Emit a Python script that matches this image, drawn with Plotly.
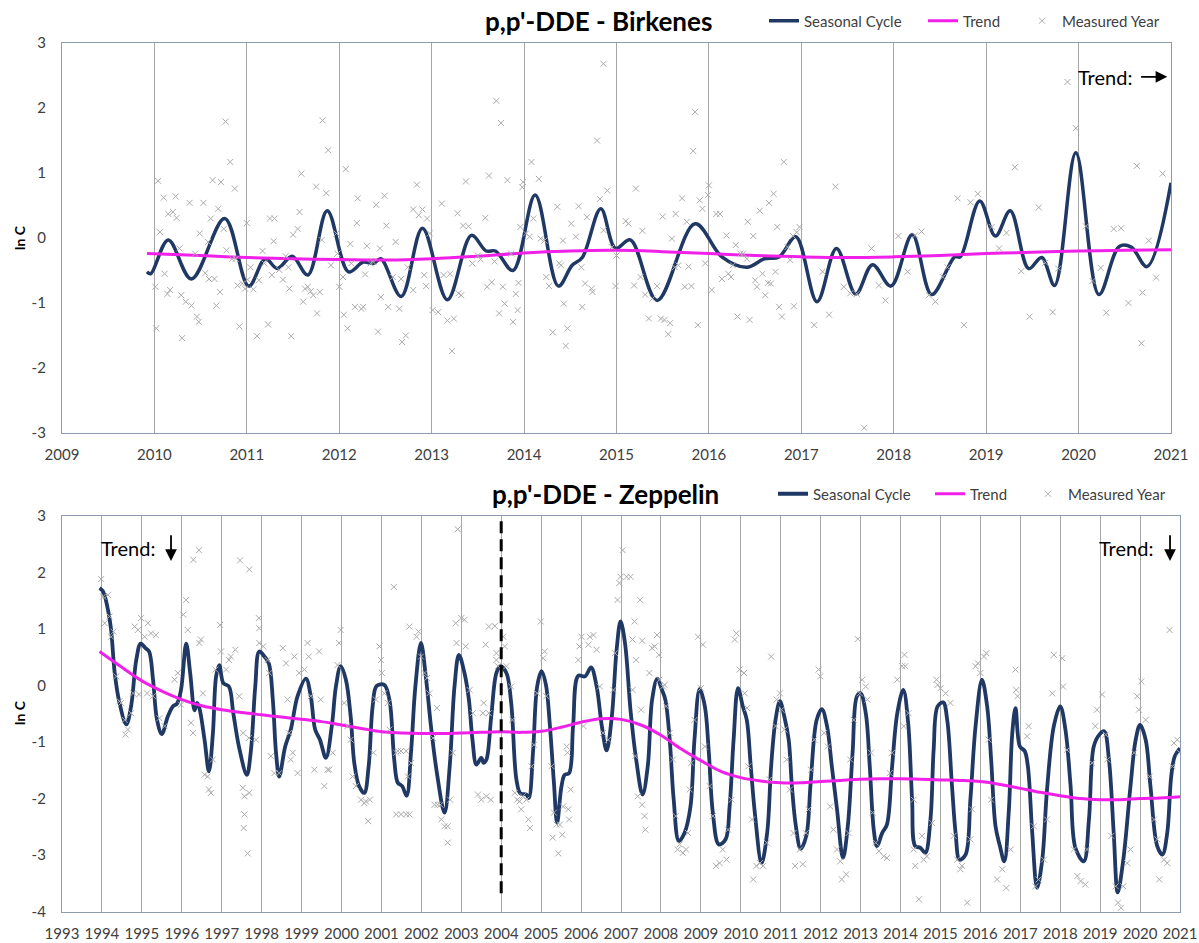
import plotly.graph_objects as go

# ---------------- Birkenes ----------------
birk_cycle_year = [2009.92, 2009.96, 2010.15, 2010.40, 2010.76, 2011.02, 2011.20, 2011.33, 2011.49,
                   2011.66, 2011.87, 2012.10, 2012.26, 2012.37, 2012.45, 2012.67, 2012.90, 2013.17,
                   2013.43, 2013.59, 2013.69, 2013.88, 2014.12, 2014.37, 2014.52, 2014.63, 2014.83,
                   2014.99, 2015.15, 2015.44, 2015.85, 2016.14, 2016.41, 2016.60, 2016.76, 2016.94,
                   2017.17, 2017.38, 2017.59, 2017.77, 2017.97, 2018.20, 2018.41, 2018.66, 2018.72,
                   2018.93, 2019.10, 2019.26, 2019.46, 2019.60, 2019.74, 2019.97, 2020.22, 2020.44,
                   2020.57, 2020.74, 2021.00]
birk_cycle_val = [-0.52, -0.55, -0.03, -0.63, 0.30, -0.74, -0.32, -0.47, -0.28,
                  -0.57, 0.42, -0.52, -0.37, -0.39, -0.32, -0.90, 0.15, -0.95,
                  0.04, -0.20, -0.20, -0.50, 0.66, -0.74, -0.42, -0.30, 0.45,
                  -0.16, -0.03, -0.96, 0.22, -0.29, -0.45, -0.32, -0.29, 0.02,
                  -0.98, -0.16, -0.86, -0.41, -0.74, 0.05, -0.87, -0.29, -0.29,
                  0.57, 0.03, 0.42, -0.47, -0.30, -0.73, 1.31, -0.87, -0.13,
                  -0.14, -0.44, 0.85]

birk_trend_year = [2009.92, 2010.5, 2011, 2011.5, 2012, 2012.5, 2013, 2013.5, 2014, 2014.5, 2015,
                   2015.5, 2016, 2016.5, 2017, 2017.5, 2018, 2018.5, 2019, 2019.5, 2020, 2020.5, 2021]
birk_trend_val = [-0.24, -0.27, -0.30, -0.32, -0.33, -0.34, -0.32, -0.28, -0.23, -0.20, -0.19,
                  -0.21, -0.24, -0.27, -0.29, -0.30, -0.29, -0.27, -0.24, -0.22, -0.20, -0.19, -0.18]

birk_meas_year = [
    2010.04, 2010.01, 2010.02, 2010.06, 2010.10, 2010.11, 2010.14, 2010.15, 2010.17, 2010.20,
    2010.23, 2010.24, 2010.27, 2010.30, 2010.29, 2010.34, 2010.38, 2010.40, 2010.44, 2010.46,
    2010.48, 2010.49, 2010.53, 2010.55, 2010.58, 2010.59, 2010.61, 2010.63, 2010.65, 2010.67,
    2010.69, 2010.71, 2010.72, 2010.75, 2010.77, 2010.78, 2010.82, 2010.84, 2010.87, 2010.88,
    2010.90, 2010.92, 2010.95, 2010.98, 2011.00, 2011.01, 2011.04, 2011.07, 2011.11, 2011.13,
    2011.17, 2011.19, 2011.23, 2011.25, 2011.27, 2011.29, 2011.30, 2011.35, 2011.39, 2011.42,
    2011.45, 2011.46, 2011.48, 2011.50, 2011.55, 2011.57, 2011.59, 2011.61, 2011.63, 2011.66,
    2011.69, 2011.72, 2011.75, 2011.76, 2011.79, 2011.81, 2011.82, 2011.86, 2011.88, 2011.91,
    2011.97, 2011.98, 2012.00, 2012.04, 2012.05, 2012.07, 2012.09, 2012.12, 2012.13, 2012.17,
    2012.19, 2012.20, 2012.24, 2012.26, 2012.28, 2012.30, 2012.34, 2012.37, 2012.40, 2012.42,
    2012.44, 2012.45, 2012.49, 2012.51, 2012.53, 2012.58, 2012.61, 2012.65, 2012.67, 2012.68,
    2012.72, 2012.74, 2012.80, 2012.80, 2012.84, 2012.86, 2012.90, 2012.92, 2012.94, 2012.95,
    2012.98, 2013.01, 2013.07, 2013.11, 2013.13, 2013.17, 2013.20, 2013.22, 2013.24, 2013.28,
    2013.29, 2013.32, 2013.34, 2013.37, 2013.40, 2013.44, 2013.50, 2013.53, 2013.58, 2013.60,
    2013.62, 2013.65, 2013.68, 2013.70, 2013.73, 2013.75, 2013.77, 2013.79, 2013.82, 2013.86,
    2013.88, 2013.91, 2013.93, 2013.94, 2013.96, 2013.98, 2013.99, 2014.02, 2014.06, 2014.08,
    2014.10, 2014.16, 2014.18, 2014.22, 2014.24, 2014.27, 2014.31, 2014.36, 2014.38, 2014.40,
    2014.42, 2014.43, 2014.45, 2014.47, 2014.51, 2014.56, 2014.59, 2014.62, 2014.63, 2014.66,
    2014.68, 2014.73, 2014.74, 2014.79, 2014.86, 2014.82, 2014.90, 2014.86, 2014.95, 2014.99,
    2015.00, 2015.10, 2015.13, 2015.21, 2015.19, 2015.26, 2015.28, 2015.31, 2015.35, 2015.39,
    2015.44, 2015.48, 2015.50, 2015.52, 2015.56, 2015.58, 2015.60, 2015.63, 2015.64, 2015.67,
    2015.71, 2015.74, 2015.76, 2015.78, 2015.81, 2015.83, 2015.85, 2015.88, 2015.90, 2015.93,
    2015.96, 2015.99, 2016.00, 2016.03, 2016.08, 2016.12, 2016.14, 2016.19, 2016.21, 2016.24,
    2016.26, 2016.29, 2016.31, 2016.34, 2016.37, 2016.41, 2016.42, 2016.44, 2016.48, 2016.50,
    2016.52, 2016.55, 2016.58, 2016.61, 2016.64, 2016.65, 2016.67, 2016.70, 2016.72, 2016.74,
    2016.76, 2016.79, 2016.81, 2016.85, 2016.88, 2016.91, 2016.92, 2016.95, 2016.98, 2017.14,
    2017.23, 2017.30, 2017.37, 2017.46, 2017.53, 2017.60, 2017.68, 2017.76, 2017.84, 2017.91,
    2018.05, 2018.15, 2018.23, 2018.30, 2018.38, 2018.45, 2018.53, 2018.58, 2018.69, 2018.76,
    2018.83, 2018.91, 2019.06, 2019.14, 2019.22, 2019.31, 2019.38, 2019.47, 2019.57, 2019.64,
    2019.72, 2019.78, 2019.88, 2019.97, 2020.08, 2020.15, 2020.24, 2020.30, 2020.38, 2020.46,
    2020.54, 2020.63, 2020.68, 2020.69, 2020.76, 2020.84, 2020.91]
birk_meas_val = [
    0.88, -0.75, -1.39, 0.09, 0.62, -0.55, -0.86, 0.37, -0.80, 0.40,
    0.64, 0.31, -0.16, -1.54, -0.88, -0.98, 0.54, -1.04, -0.24, -1.21,
    -1.29, 0.07, 0.54, -0.54, -0.06, -0.63, 0.30, 0.89, -0.63, -1.04,
    0.45, -0.83, 0.86, 0.14, 1.79, -0.19, 1.17, -0.32, 0.76, -0.32,
    -0.73, -1.36, -0.70, -0.78, 0.23, -0.64, -0.45, -0.79, -1.51, -0.65,
    -0.20, -0.39, -1.33, 0.30, -0.57, -0.05, 0.30, -0.49, -0.64, -0.28,
    -0.45, -0.78, -1.51, 0.05, 0.14, 0.40, 0.99, -0.98, -0.78, -0.75,
    -0.82, -0.88, 0.79, -1.16, -0.83, -0.03, 1.81, 0.69, 1.35, -0.42,
    0.07, -0.24, -0.75, -0.60, -1.18, 1.06, -1.39, -0.09, -0.39, -1.06,
    0.23, 0.61, -1.09, -1.06, -0.56, -0.12, -0.39, -0.37, 0.51, -1.44,
    -0.16, -0.91, 0.65, 0.19, -1.06, -0.60, -0.06, -1.09, -0.63, -1.60,
    -1.50, -0.45, 0.44, -0.80, 0.82, 0.35, 0.44, -0.57, -0.74, 0.30,
    0.07, -1.11, -1.14, 0.53, -0.57, -1.27, -0.55, -1.74, -1.24, 0.38,
    -0.85, -0.88, 0.19, 0.87, 0.18, -0.39, -0.27, -0.33, 0.31, -0.75,
    0.96, -0.68, -0.36, 2.11, -1.16, 1.77, -0.75, -1.01, 0.89, -0.24,
    -1.29, -0.86, -1.11, -0.69, 0.17, 0.78, 0.86, 0.07, 0.02, 1.17,
    0.30, 0.91, -0.01, -0.04, -0.60, -0.74, -1.45, 0.48, -0.39, -0.42,
    -0.04, -1.01, -1.66, -1.39, 0.22, 0.02, 0.49, -0.45, -1.06, -0.70,
    0.32, -0.78, -0.83, 1.50, 2.68, 0.60, 0.73, 0.12, -0.14, -0.74,
    -0.27, 0.26, 0.22, 0.76, -0.73, -0.60, 0.11, -0.87, -1.24, -0.93,
    -0.74, -1.24, 0.33, -1.26, -1.48, -1.31, -0.01, -0.45, 0.37, -0.42,
    0.61, -0.75, 0.25, -0.44, -0.74, 1.34, 1.94, -1.34, 0.58, 0.45,
    -0.39, 0.66, 0.81, -0.80, 0.37, 0.37, -0.63, 0.04, -0.55, -0.60,
    -0.42, -0.11, -1.21, -0.24, -0.24, -0.32, 0.25, -1.26, 0.03, -0.65,
    -0.75, 0.42, -0.55, -0.88, -0.69, 0.54, -0.70, 0.68, -0.52, 0.17,
    -1.06, -1.21, 1.17, -0.14, -0.34, 0.03, -1.05, 0.09, 0.17, -1.34,
    -0.52, -1.18, 0.79, -0.75, -0.85, -0.86, -2.92, -0.16, -0.73, -0.96,
    0.03, -0.52, 0.04, 0.10, -0.88, -0.98, -0.60, -0.45, 0.61, -1.34,
    0.55, 0.68, 0.17, -0.16, 0.08, 1.09, -0.51, -1.21, 0.47, -0.38,
    -1.14, -0.47, 2.40, 1.69, 0.18, -0.66, -0.46, -1.15, 0.14, 0.15,
    -1.00, 1.11, -1.62, -0.84, -0.04, -0.61, 0.99]

# ---------------- Zeppelin ----------------
zep_cycle_year = [
    1993.94, 1994.03, 1994.15, 1994.23, 1994.32, 1994.44, 1994.61, 1994.73, 1994.86, 1994.97,
    1995.09, 1995.18, 1995.28, 1995.38, 1995.50, 1995.65, 1995.78, 1995.88, 1995.98, 1996.11,
    1996.21, 1996.32, 1996.38, 1996.44, 1996.57, 1996.68, 1996.78, 1996.86, 1996.94, 1997.04,
    1997.18, 1997.29, 1997.44, 1997.63, 1997.73, 1997.84, 1997.94, 1998.07, 1998.18, 1998.28,
    1998.36, 1998.44, 1998.59, 1998.73, 1998.90, 1999.11, 1999.23, 1999.34, 1999.46, 1999.61,
    1999.76, 1999.86, 1999.98, 2000.11, 2000.23, 2000.32, 2000.44, 2000.57, 2000.68, 2000.78,
    2000.88, 2001.07, 2001.20, 2001.32, 2001.41, 2001.52, 2001.63, 2001.74, 2001.85, 2001.99,
    2002.12, 2002.24, 2002.39, 2002.58, 2002.71, 2002.83, 2002.94, 2003.08, 2003.19, 2003.28,
    2003.38, 2003.50, 2003.56, 2003.63, 2003.75, 2003.88, 2003.98, 2004.13, 2004.25, 2004.38,
    2004.48, 2004.63, 2004.69, 2004.80, 2004.90, 2005.01, 2005.12, 2005.22, 2005.32, 2005.40,
    2005.51, 2005.59, 2005.70, 2005.80, 2005.93, 2006.10, 2006.25, 2006.39, 2006.52, 2006.64,
    2006.77, 2006.89, 2006.99, 2007.10, 2007.24, 2007.38, 2007.54, 2007.67, 2007.78, 2007.91,
    2008.01, 2008.11, 2008.22, 2008.32, 2008.45, 2008.59, 2008.74, 2008.84, 2008.97, 2009.10,
    2009.20, 2009.30, 2009.45, 2009.62, 2009.72, 2009.82, 2009.93, 2010.05, 2010.15, 2010.25,
    2010.36, 2010.52, 2010.66, 2010.76, 2010.87, 2010.98, 2011.09, 2011.20, 2011.28, 2011.38,
    2011.50, 2011.64, 2011.75, 2011.90, 2012.03, 2012.16, 2012.28, 2012.41, 2012.56, 2012.68,
    2012.80, 2012.91, 2013.00, 2013.13, 2013.23, 2013.33, 2013.41, 2013.54, 2013.66, 2013.79,
    2013.92, 2014.07, 2014.19, 2014.29, 2014.37, 2014.50, 2014.62, 2014.75, 2014.83, 2014.93,
    2015.07, 2015.17, 2015.29, 2015.38, 2015.48, 2015.63, 2015.75, 2015.88, 2016.04, 2016.17,
    2016.27, 2016.38, 2016.49, 2016.60, 2016.71, 2016.80, 2016.88, 2016.99, 2017.11, 2017.19,
    2017.30, 2017.42, 2017.55, 2017.67, 2017.84, 2018.00, 2018.13, 2018.26, 2018.38, 2018.59,
    2018.72, 2018.84, 2018.98, 2019.10, 2019.22, 2019.34, 2019.44, 2019.58, 2019.76, 2019.89,
    2020.00, 2020.14, 2020.26, 2020.43, 2020.56, 2020.68, 2020.78, 2020.87, 2021.00]
zep_cycle_val = [
    1.72, 1.66, 1.34, 0.98, 0.22, -0.31, -0.69, -0.37, 0.45, 0.74,
    0.66, 0.60, 0.10, -0.61, -0.86, -0.55, -0.37, -0.32, -0.08, 0.74,
    0.22, -0.44, -0.31, -0.40, -0.96, -1.52, -0.84, 0.16, 0.36, 0.04,
    -0.02, -0.49, -1.11, -1.58, -1.16, -0.02, 0.60, 0.51, 0.39, -0.25,
    -1.19, -1.61, -1.08, -0.78, -0.19, 0.12, -0.19, -0.78, -0.96, -1.28,
    -0.70, -0.02, 0.34, 0.10, -0.55, -1.37, -1.78, -1.90, -1.43, -0.37,
    -0.01, 0.01, -0.25, -1.31, -1.72, -1.78, -1.95, -1.19, -0.02, 0.75,
    0.10, -0.72, -1.55, -2.25, -1.43, -0.02, 0.54, 0.22, -0.25, -0.96,
    -1.40, -1.28, -1.37, -1.31, -0.55, 0.22, 0.34, 0.22, -0.31, -1.66,
    -1.91, -1.93, -1.99, -1.14, -0.02, 0.25, 0.01, -0.72, -1.72, -2.43,
    -1.78, -1.58, -1.55, -0.72, 0.17, 0.16, 0.32, -0.02, -0.72, -1.15,
    -0.55, 0.63, 1.13, 0.75, -0.45, -1.31, -1.93, -1.43, -0.25, 0.12,
    -0.05, -0.25, -0.96, -2.02, -2.75, -2.61, -2.14, -0.96, -0.06, -0.37,
    -1.19, -2.25, -2.81, -2.72, -2.14, -0.96, -0.05, -0.37, -0.61, -1.43,
    -2.31, -3.14, -2.61, -1.43, -0.61, -0.28, -0.55, -0.96, -1.78, -2.49,
    -2.89, -2.66, -1.72, -0.61, -0.42, -0.72, -1.43, -2.19, -3.05, -2.49,
    -1.19, -0.19, -0.14, -0.49, -1.43, -2.55, -2.84, -2.61, -2.46, -1.43,
    -0.49, -0.08, -0.65, -2.02, -2.84, -2.87, -2.96, -2.37, -1.14, -0.37,
    -0.30, -0.61, -1.78, -2.61, -3.08, -2.99, -2.02, -0.72, 0.10, -0.37,
    -1.31, -2.49, -2.84, -3.11, -2.25, -0.84, -0.40, -1.08, -1.16, -1.43,
    -2.61, -3.58, -3.08, -1.84, -0.72, -0.37, -0.78, -1.78, -2.87, -3.11,
    -2.37, -1.08, -0.87, -0.81, -1.31, -2.61, -3.66, -3.08, -1.78, -0.96,
    -0.70, -0.96, -1.78, -2.84, -2.99, -2.61, -1.61, -1.25, -1.11]

zep_trend_year = [1993.94, 1994.5, 1995, 1995.5, 1996, 1996.5, 1997, 1997.5, 1998, 1998.5, 1999,
                  1999.5, 2000, 2000.5, 2001, 2001.5, 2002, 2002.5, 2003, 2003.5, 2004, 2004.5,
                  2005, 2005.5, 2006, 2006.5, 2007, 2007.5, 2008, 2008.5, 2009, 2009.5, 2010,
                  2010.5, 2011, 2011.5, 2012, 2012.5, 2013, 2013.5, 2014, 2014.5, 2015, 2015.5,
                  2016, 2016.5, 2017, 2017.5, 2018, 2018.5, 2019, 2019.5, 2020, 2020.5, 2021]
zep_trend_val = [0.60, 0.32, 0.08, -0.10, -0.25, -0.36, -0.43, -0.48, -0.52, -0.56, -0.60,
                 -0.64, -0.70, -0.76, -0.82, -0.84, -0.85, -0.85, -0.84, -0.83, -0.82, -0.83,
                 -0.81, -0.74, -0.65, -0.59, -0.60, -0.70, -0.88, -1.12, -1.33, -1.52, -1.63,
                 -1.69, -1.72, -1.72, -1.70, -1.68, -1.66, -1.65, -1.65, -1.66, -1.67, -1.68,
                 -1.70, -1.75, -1.82, -1.89, -1.95, -2.00, -2.02, -2.02, -2.00, -1.99, -1.97]

zep_meas_year = [
    1993.98, 1994.03, 1994.15, 1994.07, 1994.19, 1994.23, 1994.29, 1994.36, 1994.44, 1994.48,
    1994.57, 1994.59, 1994.65, 1994.73, 1994.78, 1994.82, 1994.90, 1994.93, 1994.98, 1995.07,
    1995.15, 1995.23, 1995.35, 1995.13, 1995.28, 1995.44, 1995.57, 1995.82, 1995.90, 1995.98,
    1996.04, 1996.11, 1996.15, 1996.23, 1996.29, 1996.43, 1996.44, 1996.48, 1996.53, 1996.28,
    1996.57, 1996.65, 1996.68, 1996.73, 1996.78, 1996.84, 1996.96, 1996.98, 1997.11, 1997.18,
    1997.23, 1997.34, 1997.44, 1997.54, 1997.53, 1997.57, 1997.57, 1997.55, 1997.65, 1997.69,
    1997.46, 1997.69, 1997.68, 1997.86, 1997.93, 1997.94, 1997.94, 1998.04, 1998.15, 1998.19,
    1998.23, 1998.32, 1998.44, 1998.53, 1998.61, 1998.65, 1998.69, 1998.73, 1998.78, 1998.82,
    1998.90, 1998.94, 1999.07, 1999.15, 1999.18, 1999.23, 1999.32, 1999.44, 1999.48, 1999.57,
    1999.65, 1999.69, 1999.78, 1999.90,
    1999.98, 1999.94, 2000.07, 2000.15, 2000.23, 2000.28, 2000.36, 2000.49, 2000.57, 2000.61,
    2000.67, 2000.71, 2000.80, 2000.86, 2000.95, 2000.99, 2001.01, 2001.07, 2001.16, 2001.20,
    2001.31, 2001.37, 2001.41, 2001.49, 2001.62, 2001.37, 2001.49, 2001.62, 2001.70, 2001.66,
    2001.74, 2001.70, 2001.88, 2001.93, 2001.99, 2002.08, 2002.14, 2002.20, 2002.29, 2002.39,
    2002.33, 2002.41, 2002.48, 2002.50, 2002.58, 2002.66, 2002.66, 2002.72, 2002.79, 2002.86,
    2002.91, 2002.88, 2003.00, 2003.08, 2003.11, 2003.21, 2003.29, 2003.42, 2003.50, 2003.54,
    2003.56, 2003.63, 2003.69, 2003.74, 2003.61, 2003.69, 2003.84, 2003.88, 2003.88, 2003.92,
    2004.05, 2004.09, 2004.13, 2004.25, 2004.28, 2004.34, 2004.40, 2004.46, 2004.50, 2004.54,
    2004.63, 2004.68, 2004.72, 2004.76, 2004.82, 2004.90, 2004.99, 2005.05, 2005.09, 2005.13,
    2005.26, 2005.29, 2005.32, 2005.39, 2005.43, 2005.47, 2005.53, 2005.55, 2005.64, 2005.66,
    2005.70, 2005.68, 2005.74, 2005.93, 2005.96, 2006.01, 2006.06, 2006.18, 2006.22, 2006.31,
    2006.39, 2006.47, 2006.55, 2006.68, 2006.81, 2006.85, 2006.91, 2006.96, 2006.99, 2007.04,
    2007.14,
    2007.24, 2007.34, 2007.48, 2007.29, 2007.53, 2007.38, 2007.29, 2007.36, 2007.42, 2007.53,
    2007.59, 2007.61, 2007.50, 2007.71, 2007.78, 2007.84, 2007.90, 2007.95, 2007.96, 2008.05,
    2008.09, 2008.13, 2008.22, 2008.30, 2008.37, 2008.42, 2008.47, 2008.55, 2008.63, 2008.68,
    2008.72, 2008.76, 2008.84, 2008.93, 2009.05, 2009.00, 2009.10, 2009.22, 2009.30, 2009.38,
    2009.47, 2009.55, 2009.64, 2009.68, 2009.77, 2009.85, 2009.89, 2009.97, 2010.08, 2010.10,
    2010.16, 2010.19, 2010.28, 2010.31, 2010.39, 2010.48, 2010.56, 2010.65, 2010.72, 2010.76,
    2010.87, 2010.90, 2010.98, 2011.02, 2011.09, 2011.15, 2011.23, 2011.32, 2011.36, 2011.48,
    2011.55, 2011.63, 2011.70, 2011.76, 2011.84, 2011.95, 2011.99, 2012.09, 2012.18, 2012.24,
    2012.32, 2012.41, 2012.49, 2012.53, 2012.64, 2012.70, 2012.74, 2012.83, 2012.93, 2012.98,
    2013.04, 2013.13, 2013.17, 2013.26, 2013.30, 2013.38, 2013.46, 2013.58, 2013.66, 2013.73,
    2013.79, 2013.92, 2014.04, 2014.10, 2014.20, 2014.33, 2014.37, 2014.46,
    2014.12, 2014.08, 2014.33, 2014.54, 2014.58, 2014.66, 2014.79, 2014.90, 2014.93, 2015.00,
    2015.13, 2015.25, 2015.33, 2015.42, 2015.50, 2015.54, 2015.67, 2015.75, 2015.79, 2015.88,
    2015.94, 2016.00, 2016.09, 2016.15, 2016.21, 2016.27, 2016.42, 2016.55, 2016.65, 2016.76,
    2016.88, 2016.90, 2016.93, 2017.17, 2017.21, 2017.34, 2017.38, 2017.46, 2017.59, 2017.67,
    2017.80, 2017.84, 2018.05, 2018.07, 2018.17, 2018.34, 2018.43, 2018.51, 2018.63, 2018.67,
    2018.80, 2018.88, 2018.92, 2019.05, 2019.14, 2019.18, 2019.28, 2019.39, 2019.45, 2019.52,
    2019.58, 2019.68, 2019.76, 2019.85, 2019.93, 2019.97, 2020.03, 2020.14, 2020.24, 2020.35,
    2020.43, 2020.48, 2020.60, 2020.68, 2020.74, 2020.81, 2020.85, 2020.93, 2020.99]
zep_meas_val = [
    1.88, 1.57, 1.60, 1.10, 1.22, 0.86, 0.95, 0.16, -0.28, -0.31,
    -0.61, -0.87, -0.78, -0.49, -0.14, 1.04, 0.98, -0.16, 1.19, 0.86,
    1.10, 0.92, 0.89, -0.14, -0.19, -0.58, -0.72, 0.10, 0.22, -0.34,
    1.25, 1.51, 0.98, -0.66, 2.22, 2.39, 0.75, 0.81, -0.14, -0.84,
    -1.58, -1.61, -1.84, -1.90, -1.31, 0.28, 1.07, 0.60, 0.28, 0.45,
    0.51, 0.63, -0.19, -0.84, -1.81, -1.96, -2.28, -2.52, -2.97, -1.90,
    2.21, 2.05, -0.93, -0.96, 1.19, 1.01, 0.75, 0.69, 0.45, 0.22,
    -1.25, -1.55, -1.55, 0.66, 0.39, -0.25, -0.84, -1.31, -1.19, 0.51,
    -1.55, 0.22, 0.28, 0.75, 0.51, -0.19, -1.49, 0.60, -0.25, -1.78,
    -1.49, -1.49, -1.19, 0.36,
    0.98, 0.75, -0.31, -0.72, -0.96, -1.61, -1.78, -2.02, -2.08, -2.05,
    -2.40, -2.02, -1.19, -0.25, 0.69, 0.45, 0.22, -0.14, -0.31, -0.78,
    1.74, -1.19, -1.16, -1.16, -1.16, -2.28, -2.28, -2.28, -2.28, -1.61,
    -1.37, 1.04, 0.86, 0.95, 0.51, 0.22, 0.13, -0.14, -0.93, -0.40,
    -2.11, -2.11, -2.11, -2.37, -2.49, -2.49, -2.78, -2.02, -1.19, 1.10,
    2.76, 0.75, 1.19, 1.16, 0.69, -0.08, -0.49, -1.93, -2.02, -0.49,
    -0.31, -1.96, -0.49, -2.02, 0.72, 1.04, 1.05, 0.57, 0.45, 0.34,
    0.86, 0.69, 0.34, -0.02, -0.61, -1.90, -2.02, -2.05, -2.19, -1.96,
    -2.02, -2.37, -2.52, -1.43, -1.05, -0.14, 1.13, 0.48, 0.60, -0.19,
    -1.43, -2.69, -2.25, -2.46, -2.97, -2.46, -2.64, -2.14, -1.08, -1.19,
    -2.37, -2.19, -1.84, 0.45, 0.69, 0.86, -0.72, 0.72, 0.86, 0.89,
    0.63, -0.02, -0.84, -0.96, -0.08, 0.57, 1.51, 1.81, 1.92, 2.39,
    1.92,
    1.92, 1.13, 1.51, 0.81, 0.79, 0.45, -0.08, -1.25, -1.96, -2.11,
    -2.31, -2.55, -0.43, 0.22, 0.66, 0.69, 0.89, 0.54, 0.10, -0.02,
    0.01, -0.37, -0.84, -1.31, -2.31, -2.90, -2.81, -2.96, -2.90, -2.61,
    -1.84, -1.37, -0.61, 0.86, 0.72, -0.05, -1.08, -1.78, -2.31, -3.19,
    -3.14, -2.90, -3.08, -2.55, -2.02, 0.81, 0.92, 0.28, 0.22, -0.14,
    -0.40, -1.43, -2.37, -3.43, -3.19, -3.14, -3.19, -2.78, -1.66, 0.51,
    -0.72, -0.25, -0.14, -0.43, -0.78, -1.31, -1.84, -2.61, -3.19, -2.90,
    -3.16, -2.61, -2.19, -1.49, -0.96, 0.28, 0.16, -0.84, -1.08, -2.14,
    -2.55, -2.90, -3.11, -3.43, -3.34, -2.61, -1.31, -0.61, 0.82, -0.14,
    0.10, -0.02, -0.25, -1.19, -2.25, -2.78, -2.93, -3.02, -3.05, -1.55,
    -1.19, 0.10, 0.34, 0.54, -0.49, -2.02, -3.19, -3.78,
    0.34, -0.72, -2.90, -2.66, -3.08, -3.02, -2.43, 0.10, 0.01, -0.05,
    -0.14, -0.31, -2.66, -3.08, -3.25, -3.19, -3.84, -2.72, -2.19, 0.34,
    0.39, 0.22, 0.51, 0.57, -0.96, -2.02, -3.43, -3.25, -3.58, -2.90,
    0.28, -0.08, -0.19, -0.90, -0.72, -2.49, -3.55, -3.43, -3.08, -2.37,
    -0.14, 0.54, 0.48, -0.02, -1.14, -2.90, -3.37, -3.46, -3.52, -2.90,
    -1.37, -0.72, -0.43, -0.16, -0.87, -1.31, -2.66, -3.55, -3.84, -3.93,
    -3.55, -3.14, -2.90, -1.19, -0.19, -0.43, 0.07, -0.61, -1.61, -2.37,
    -2.72, -3.43, -3.08, -3.14, 0.98, -1.43, -1.02, -0.96, -1.19]

# ---------------- styling ----------------
FONT = "Lato"
NAVY = "#203864"
MAGENTA = "#f020e8"
MARK = "#ababab"
GRID = "#a6a6a6"
FRAME = "#8c9bb0"
W, H = 1199, 943


def px_x(px):
    return px / W


def px_y(py):
    return 1 - py / H


fig = go.Figure()

# each legend entry gets its own legend box so the entries can be spaced freely
fig.add_trace(go.Scatter(x=birk_cycle_year, y=birk_cycle_val, mode="lines", name="Seasonal Cycle",
                         line=dict(color=NAVY, width=3.5, shape="spline", smoothing=1.0),
                         xaxis="x", yaxis="y", legend="legend"))
fig.add_trace(go.Scatter(x=birk_trend_year, y=birk_trend_val, mode="lines", name="Trend",
                         line=dict(color=MAGENTA, width=3, shape="spline"),
                         xaxis="x", yaxis="y", legend="legend2"))
fig.add_trace(go.Scatter(x=birk_meas_year, y=birk_meas_val, mode="markers", name="Measured Year",
                         marker=dict(symbol="x-thin", size=6, line=dict(color=MARK, width=1)),
                         xaxis="x", yaxis="y", legend="legend3"))

fig.add_trace(go.Scatter(x=zep_cycle_year, y=zep_cycle_val, mode="lines", name="Seasonal Cycle",
                         line=dict(color=NAVY, width=3.8, shape="spline", smoothing=1.0),
                         xaxis="x2", yaxis="y2", legend="legend4"))
fig.add_trace(go.Scatter(x=zep_trend_year, y=zep_trend_val, mode="lines", name="Trend",
                         line=dict(color=MAGENTA, width=3, shape="spline"),
                         xaxis="x2", yaxis="y2", legend="legend5"))
fig.add_trace(go.Scatter(x=zep_meas_year, y=zep_meas_val, mode="markers", name="Measured Year",
                         marker=dict(symbol="x-thin", size=6, line=dict(color=MARK, width=1)),
                         xaxis="x2", yaxis="y2", legend="legend6"))

tickfont = dict(family=FONT, size=15, color="#404040")


def xaxis_style(domain, rng, anchor):
    return dict(domain=domain, range=rng, anchor=anchor, tickmode="linear", tick0=rng[0], dtick=1,
                tickformat="d", tickangle=0, showgrid=True, gridcolor=GRID, gridwidth=1,
                zeroline=False, showline=True, linecolor=FRAME, linewidth=1.2, mirror=True,
                ticks="", tickfont=tickfont, ticklabelstandoff=8, automargin=False,
                fixedrange=True)


def yaxis_style(domain, lo, hi, anchor):
    vals = list(range(lo, hi + 1))
    return dict(domain=domain, range=[lo, hi], anchor=anchor, tickmode="array", tickvals=vals,
                ticktext=[str(v) for v in vals], showgrid=False, zeroline=False,
                showline=True, linecolor=FRAME, linewidth=1.2, mirror=True, ticks="",
                tickfont=tickfont, ticklabelstandoff=12, automargin=False, fixedrange=True)


def legend_at(px, py):
    return dict(x=px_x(px), y=px_y(py), orientation="h",
                font=dict(family=FONT, size=15, color="#404040"),
                bgcolor="rgba(0,0,0,0)", borderwidth=0, xanchor="left", yanchor="middle",
                itemclick=False, itemdoubleclick=False)


fig.update_layout(
    width=W, height=H,
    margin=dict(l=0, r=0, t=0, b=0, autoexpand=False),
    paper_bgcolor="white", plot_bgcolor="white",
    font=dict(family=FONT, color="#333333"),
    xaxis=xaxis_style([px_x(62), px_x(1171)], [2009, 2021], "y"),
    yaxis=yaxis_style([px_y(433), px_y(43)], -3, 3, "x"),
    xaxis2=xaxis_style([px_x(62), px_x(1180)], [1993, 2021], "y2"),
    yaxis2=yaxis_style([px_y(911.7), px_y(515.7)], -4, 3, "x2"),
    legend=legend_at(764, 21),
    legend2=legend_at(923, 21),
    legend3=legend_at(1022, 21),
    legend4=legend_at(773, 494),
    legend5=legend_at(930, 494),
    legend6=legend_at(1028, 494),
    showlegend=True,
)

# dashed marker at 2004
fig.add_shape(type="line", xref="x2", yref="y2", x0=2004, x1=2004, y0=2.9, y1=-3.75,
              line=dict(color="black", width=3, dash="12px,6px"))

annotations = [
    dict(text="<b>p,p'-DDE - Birkenes</b>", xref="paper", yref="paper", x=px_x(598), y=px_y(21),
         showarrow=False, font=dict(family=FONT, size=26, color="black"),
         xanchor="center", yanchor="middle"),
    dict(text="<b>p,p'-DDE - Zeppelin</b>", xref="paper", yref="paper", x=px_x(606), y=px_y(494),
         showarrow=False, font=dict(family=FONT, size=26, color="black"),
         xanchor="center", yanchor="middle"),
    dict(text="<b>ln C</b>", xref="paper", yref="paper", x=px_x(19), y=px_y(238), textangle=-90,
         showarrow=False, font=dict(family=FONT, size=14, color="black"),
         xanchor="center", yanchor="middle"),
    dict(text="<b>ln C</b>", xref="paper", yref="paper", x=px_x(19), y=px_y(713), textangle=-90,
         showarrow=False, font=dict(family=FONT, size=14, color="black"),
         xanchor="center", yanchor="middle"),
    # trend indicators
    dict(text="Trend:", xref="x", yref="y", x=2020.60, y=2.48, showarrow=False,
         font=dict(family=FONT, size=20, color="black"), xanchor="right", yanchor="middle"),
    dict(text="", xref="x", yref="y", x=2020.96, y=2.48, ax=2020.66, ay=2.48,
         axref="x", ayref="y", showarrow=True, arrowhead=2, arrowsize=1.3, arrowwidth=1.8,
         arrowcolor="black"),
    dict(text="Trend:", xref="x2", yref="y2", x=1995.37, y=2.43, showarrow=False,
         font=dict(family=FONT, size=20, color="black"), xanchor="right", yanchor="middle"),
    dict(text="", xref="x2", yref="y2", x=1995.73, y=2.2, ax=1995.73, ay=2.68,
         axref="x2", ayref="y2", showarrow=True, arrowhead=2, arrowsize=1.3, arrowwidth=1.8,
         arrowcolor="black"),
    dict(text="Trend:", xref="x2", yref="y2", x=2020.38, y=2.43, showarrow=False,
         font=dict(family=FONT, size=20, color="black"), xanchor="right", yanchor="middle"),
    dict(text="", xref="x2", yref="y2", x=2020.75, y=2.2, ax=2020.75, ay=2.68,
         axref="x2", ayref="y2", showarrow=True, arrowhead=2, arrowsize=1.3, arrowwidth=1.8,
         arrowcolor="black"),
]
fig.update_layout(annotations=annotations)

fig.write_html("out.html")
